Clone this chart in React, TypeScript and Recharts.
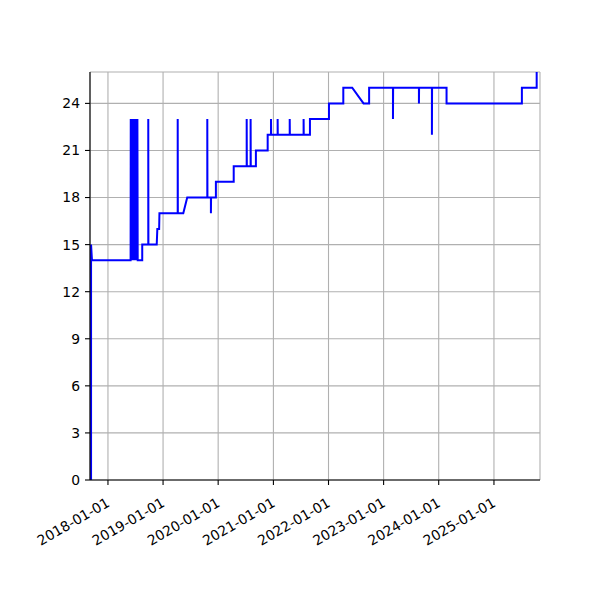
import React from 'react'
import { CartesianGrid, Line, LineChart, XAxis, YAxis } from 'recharts'

// DATA (date of each sample, value at that date; repeated dates give the vertical jumps)

const sampleDates = [
    '2017-09-11', '2017-09-11', '2017-09-17', '2018-05-31',
    '2018-06-01', '2018-06-03', '2018-06-06', '2018-06-09', '2018-06-13', '2018-06-16', '2018-06-20',
    '2018-06-24', '2018-06-29', '2018-07-03', '2018-07-08', '2018-07-12', '2018-07-15', '2018-07-17',
    '2018-08-16', '2018-08-16',
    '2018-09-25', '2018-09-25', '2018-09-26',
    '2018-11-20', '2018-11-24', '2018-12-06', '2018-12-08',
    '2019-04-08', '2019-04-08', '2019-04-09',
    '2019-05-15', '2019-06-10',
    '2019-10-21', '2019-10-21', '2019-10-22',
    '2019-11-14', '2019-11-14', '2019-11-15',
    '2019-12-17', '2019-12-17',
    '2020-04-13', '2020-04-13',
    '2020-07-08', '2020-07-08', '2020-07-09',
    '2020-08-03', '2020-08-03', '2020-08-04',
    '2020-09-07', '2020-09-07',
    '2020-11-24', '2020-11-24',
    '2020-12-16', '2020-12-16', '2020-12-17',
    '2021-01-29', '2021-01-29', '2021-01-30',
    '2021-04-19', '2021-04-19', '2021-04-20',
    '2021-07-20', '2021-07-20', '2021-07-21',
    '2021-08-31', '2021-08-31',
    '2022-01-04', '2022-01-04',
    '2022-04-09', '2022-04-09',
    '2022-06-07', '2022-08-21',
    '2022-09-27', '2022-09-27',
    '2023-03-04', '2023-03-04', '2023-03-05',
    '2023-08-23', '2023-08-23', '2023-08-24',
    '2023-11-17', '2023-11-17', '2023-11-18',
    '2024-02-22', '2024-02-22',
    '2025-07-05', '2025-07-05',
    '2025-10-11', '2025-10-11',
]

const sampleValues = [
    0, 15, 14, 14,
    23, 14, 23, 14, 23, 14, 23,
    14, 23, 14, 23, 14, 23, 14,
    14, 15,
    15, 23, 15,
    15, 16, 16, 17,
    17, 23, 17,
    17, 18,
    18, 23, 18,
    18, 17, 18,
    18, 19,
    19, 20,
    20, 23, 20,
    20, 23, 20,
    20, 21,
    21, 22,
    22, 23, 22,
    22, 23, 22,
    22, 23, 22,
    22, 23, 22,
    22, 23,
    23, 24,
    24, 25,
    25, 24,
    24, 25,
    25, 23, 25,
    25, 24, 25,
    25, 22, 25,
    25, 24,
    24, 25,
    25, 26,
]

const yearTicks = ['2018-01-01', '2019-01-01', '2020-01-01', '2021-01-01', '2022-01-01', '2023-01-01', '2024-01-01', '2025-01-01']
const valueTicks = [0, 3, 6, 9, 12, 15, 18, 21, 24]

const dateRange = ['2017-09-04', '2025-11-02']
const valueRange = [0, 26]

// HELPERS

const toTime = (s: string) => Date.parse(s + 'T00:00:00Z')

const data = sampleDates.map((d, i) => ({ time: toTime(d), count: sampleValues[i] }))
const timeDomain = dateRange.map(toTime)

const font = 'DejaVu Sans, sans-serif'

// rotated date label, right end tucked just under the tick like matplotlib's autofmt_xdate
const DateTick = (props: any) => {
    const { x, y, payload } = props
    const label = new Date(payload.value).toISOString().slice(0, 10)
    return (
        <g transform={`translate(${x - 2.5},${y + 6.5}) rotate(-30)`}>
            <text textAnchor='end' dy='0.75em' fontSize={13.9} fontFamily={font} fill='#000'>{label}</text>
        </g>
    )
}

// RETURN

export default function App() {
    return (
        <div style={{ position: 'absolute', left: 0, top: 0, width: 600, height: 600, background: '#fff' }}>
            <LineChart width={600} height={600} data={data} margin={{ top: 72, right: 60, bottom: 60, left: 40 }}>
                <CartesianGrid stroke='#b0b0b0' strokeWidth={1.1}/>
                <XAxis dataKey='time' type='number' scale='time' domain={timeDomain} allowDataOverflow
                    ticks={yearTicks.map(toTime)} interval={0} height={60}
                    tick={<DateTick/>} tickSize={5} tickMargin={5}
                    stroke='#000' strokeWidth={1.1} tickLine={{ stroke: '#000' }}/>
                <XAxis xAxisId='top' orientation='top' type='number' domain={timeDomain} height={0}
                    tick={false} tickLine={false} stroke='#000' strokeWidth={1.1}/>
                <YAxis type='number' domain={valueRange} allowDataOverflow ticks={valueTicks} interval={0} width={50}
                    tickSize={5} tickMargin={5} stroke='#000' strokeWidth={1.1}
                    tick={{ fill: '#000', fontSize: 13.9, fontFamily: font }} tickLine={{ stroke: '#000' }}/>
                <YAxis yAxisId='right' orientation='right' type='number' domain={valueRange} width={0}
                    tick={false} tickLine={false} stroke='#000' strokeWidth={1.1}/>
                <Line type='linear' dataKey='count' stroke='#0000ff' strokeWidth={2} dot={false} isAnimationActive={false}/>
            </LineChart>
        </div>
    )
}
